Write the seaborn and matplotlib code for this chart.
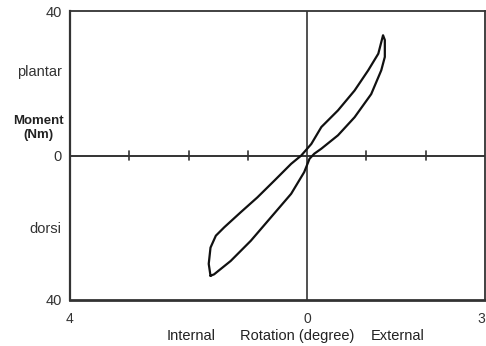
import matplotlib
matplotlib.use("Agg")
import matplotlib.pyplot as plt
import seaborn as sns
import pandas as pd

# Loop: from bottom tip up the upper-left branch to the top tip, then back down the lower-right branch
rotation = [-1.63, -1.66, -1.63, -1.54, -1.40, -1.12, -0.84, -0.55, -0.27, -0.10, 0.07, 0.24, 0.52, 0.80, 1.03, 1.20, 1.28,
            1.31, 1.31, 1.25, 1.08, 0.80, 0.52, 0.24, 0.12, 0.04, -0.05, -0.27, -0.61, -0.95, -1.29, -1.57, -1.63]
moment = [-33.3, -30.0, -25.5, -22.2, -19.9, -15.7, -11.6, -6.9, -2.3, 0.0, 3.2, 7.9, 12.5, 18.0, 23.6, 28.2, 33.3,
          32.0, 27.3, 23.6, 17.0, 10.6, 5.6, 1.9, 0.5, -0.9, -4.6, -10.6, -17.1, -23.6, -29.2, -32.9, -33.3]

x_tick_pos = [-4, 0, 3]
x_tick_labels = ["4", "0", "3"]
y_tick_pos = [40, 23.5, 0, -20, -40]
y_tick_labels = ["40", "plantar", "0", "dorsi", "40"]
minor_x = [-3, -2, -1, 1, 2]

sns.set_theme(style="white")
plt.rcParams['font.family'] = ['Liberation Sans', 'DejaVu Sans']

fig = plt.figure(figsize=(4.86, 3.46), dpi=100)
ax = fig.add_axes([0.144, 0.133, 0.854, 0.835])

df = pd.DataFrame({"rot": rotation, "mom": moment})
sns.lineplot(data=df, x="rot", y="mom", sort=False, estimator=None, ax=ax,
             color="#111111", linewidth=1.6)

ax.set_xlim(-4, 3)
ax.set_ylim(-40, 40)
ax.axhline(0, color="#333333", lw=1.4, zorder=1)
ax.axvline(0, color="#333333", lw=1.2, zorder=1)
for xv in minor_x:
    ax.plot([xv, xv], [-1.3, 1.3], color="#333333", lw=1.2, zorder=1)

for s in ax.spines.values():
    s.set_color("#333333")
    s.set_linewidth(1.3)
ax.spines['bottom'].set_linewidth(2.0)
ax.spines['left'].set_linewidth(1.6)

ax.set_xticks(x_tick_pos)
ax.set_xticklabels(x_tick_labels, fontsize=10, color="#333333")
ax.get_xticklabels()[-1].set_horizontalalignment("right")
ax.set_yticks(y_tick_pos)
ax.set_yticklabels(y_tick_labels, fontsize=10.5, color="#333333")
ax.tick_params(axis='both', length=0)
ax.tick_params(axis='x', pad=9)
ax.tick_params(axis='y', pad=6)
ax.set_xlabel("")
ax.set_ylabel("")

fig.text(38 / 486, 1 - 128 / 346, "Moment\n(Nm)", ha="center", va="center",
         fontsize=9.5, fontweight="bold", color="#222222", linespacing=1.15)
fig.text(191 / 486, 1 - 336 / 346, "Internal", ha="center", va="center", fontsize=10.5, color="#222222")
fig.text(297 / 486, 1 - 336 / 346, "Rotation (degree)", ha="center", va="center", fontsize=10.5, color="#222222")
fig.text(398 / 486, 1 - 336 / 346, "External", ha="center", va="center", fontsize=10.5, color="#222222")

fig.savefig("out.png", dpi=100)
